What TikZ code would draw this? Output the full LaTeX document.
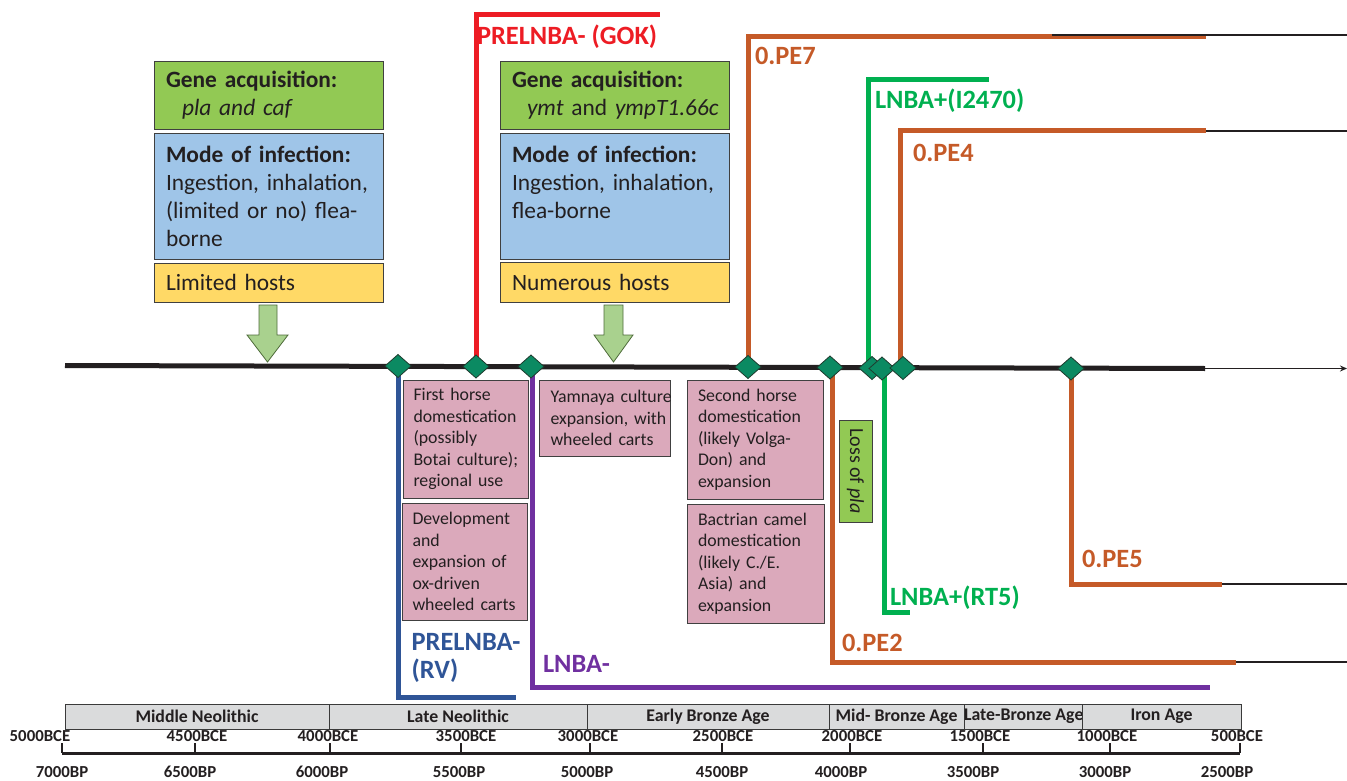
\documentclass[tikz,border=0pt]{standalone}
\usepackage{fontspec}
\setmainfont{Carlito}
\usetikzlibrary{shapes.geometric,arrows.meta,backgrounds}
\definecolor{txt}{HTML}{231F20}
\definecolor{lineBlack}{HTML}{231F20}
\definecolor{boxLine}{HTML}{404040}
\definecolor{boxLineDark}{HTML}{3A3A3A}
\definecolor{diaLine}{HTML}{1F3B2E}
\definecolor{cDia}{HTML}{0B8A62}
\definecolor{arrowGreen}{HTML}{A9D18E}
\definecolor{arrowLine}{HTML}{4E6B3A}
\definecolor{boxGreen}{HTML}{92C954}
\definecolor{boxBlue}{HTML}{9FC5E8}
\definecolor{boxYellow}{HTML}{FFD966}
\definecolor{boxPink}{HTML}{DBA9BB}
\definecolor{boxGrey}{HTML}{DADBDC}
\definecolor{cRed}{HTML}{ED1C24}
\definecolor{cOrange}{HTML}{C55A28}
\definecolor{cGreen}{HTML}{00B050}
\definecolor{cBlue}{HTML}{2F5597}
\definecolor{cPurple}{HTML}{7030A0}
\begin{document}
\begin{tikzpicture}[x=1pt,y=-1pt,
 every node/.style={inner sep=0pt,outer sep=0pt},
 box/.style={draw=boxLine,line width=0.9pt,anchor=north west,align=left,text=txt},
 bigbox/.style={box,font=\fontsize{23.4}{28}\selectfont,inner xsep=12pt,minimum width=229pt,text width=205pt},
 pinkbox/.style={box,fill=boxPink,font=\fontsize{17.8}{21.4}\selectfont},
 tbox/.style={draw=boxLineDark,line width=0.9pt,fill=boxGrey,anchor=north west,minimum height=25pt,font=\bfseries\fontsize{17.8}{20}\selectfont,text=txt},
 lab/.style={font=\bfseries\fontsize{26.4}{28.3}\selectfont,anchor=base west},
 ticklab/.style={font=\bfseries\fontsize{16.8}{18}\selectfont,anchor=base,text=txt},
 dia/.style={diamond,draw=diaLine,line width=0.8pt,fill=cDia,minimum width=26pt,minimum height=23pt},
 branch/.style={line width=5pt},
 thinline/.style={line width=1.8pt,draw=lineBlack},
 blockarrow/.style={draw=arrowLine,line width=0.8pt,fill=arrowGreen}
]
\useasboundingbox (0,0) rectangle (1347,781);

% ---- top-left info boxes
\node[bigbox,fill=boxGreen,minimum height=68pt] (lgene) at (154,61)
  {\textbf{Gene acquisition:}\\\hspace*{16pt}\textit{pla and caf}};
\node[bigbox,fill=boxBlue,minimum height=126pt] (lmode) at (154,133)
  {\textbf{Mode of infection:}\\\mbox{Ingestion, inhalation,}\\\mbox{(limited or no) flea-}\\borne};
\node[bigbox,fill=boxYellow,minimum height=39pt] (lhost) at (154,263) {Limited hosts};

% ---- middle info boxes
\node[bigbox,fill=boxGreen,minimum height=68pt] (mgene) at (500,61)
  {\textbf{Gene acquisition:}\\\hspace*{15pt}\mbox{\textit{ymt} and \textit{ympT1.66c}}};
\node[bigbox,fill=boxBlue,minimum height=126pt] (mmode) at (500,133)
  {\textbf{Mode of infection:}\\\mbox{Ingestion, inhalation,}\\flea-borne\\\mbox{}};
\node[bigbox,fill=boxYellow,minimum height=40pt] (mhost) at (500,262) {Numerous hosts};

% ---- block arrows
\draw[blockarrow] (259,305) -- (277,305) -- (277,335) -- (288,335) -- (267.5,362) -- (247,335) -- (259,335) -- cycle;
\draw[blockarrow] (604,305) -- (623,305) -- (623,335) -- (633,335) -- (613.5,362) -- (594,335) -- (604,335) -- cycle;

% ---- pink event boxes
\node[pinkbox,inner xsep=10.5pt,text width=104pt,minimum width=125pt,minimum height=118pt] (horse1) at (403,380)
  {First horse\\\mbox{domestication}\\(possibly\\\mbox{Botai culture);}\\regional use};
\node[pinkbox,inner xsep=10.5pt,text width=104pt,minimum width=125pt,minimum height=117pt] (carts) at (402,503)
  {\mbox{Development}\\and\\\mbox{expansion of}\\ox-driven\\\mbox{wheeled carts}};
\node[pinkbox,inner xsep=11.5pt,text width=108pt,minimum width=131pt,minimum height=76pt] (yamnaya) at (539,380)
  {\mbox{Yamnaya culture}\\\mbox{expansion, with}\\wheeled carts};
\node[pinkbox,inner xsep=11pt,text width=114pt,minimum width=136pt,minimum height=119pt] (horse2) at (687,380)
  {Second horse\\\mbox{domestication}\\\mbox{(likely Volga-}\\Don) and\\expansion};
\node[pinkbox,inner xsep=11pt,text width=115pt,minimum width=137pt,minimum height=119pt] (camel) at (687,504)
  {\mbox{Bactrian camel}\\\mbox{domestication}\\\mbox{(likely C./E.}\\Asia) and\\expansion};

% ---- loss of pla
\node[draw=boxLine,line width=0.9pt,fill=boxGreen,rotate=-90,minimum width=102pt,minimum height=33pt,
  font=\fontsize{20}{24}\selectfont,text=txt] (loss) at (855.5,471) {Loss of \textit{pla}};

% ---- diamonds on the main timeline
\node[dia] (d1) at (398,366) {};
\node[dia] (d2) at (476,366.5) {};
\node[dia] (d3) at (531,366.5) {};
\node[dia] (d4) at (748,367) {};
\node[dia] (d5) at (830,367.5) {};
\node[dia] (d6) at (872,368) {};
\node[dia] (d7) at (882,368.5) {};
\node[dia] (d8) at (903,368) {};
\node[dia] (d9) at (1071,368.5) {};

% ---- lineage labels
\node[lab,text=cRed] (lgok) at (477,45) {PRELNBA- (GOK)};
\node[lab,text=cOrange] (lpe7) at (755,65) {0.PE7};
\node[lab,text=cGreen] (li2470) at (875,108.3) {LNBA+(I2470)};
\node[lab,text=cOrange] (lpe4) at (913,161.7) {0.PE4};
\node[lab,text=cOrange] (lpe5) at (1082,567.3) {0.PE5};
\node[lab,text=cGreen] (lrt5) at (890,605) {LNBA+(RT5)};
\node[lab,text=cOrange] (lpe2) at (842,651.7) {0.PE2};
\node[lab,text=cBlue,anchor=north west,align=left] (lrv) at (411.7,630.2) {\strut PRELNBA-\\(RV)};
\node[lab,text=cPurple] (llnba) at (543,672.7) {LNBA-};

% ---- coordinates
\coordinate (tl0) at (65,365.5);
\coordinate (tl1) at (1205,368.5);
\coordinate (tl2) at (1347,368.5);
\coordinate (gokEnd) at (660,15);
\coordinate (pe7End) at (1206,37);
\coordinate (pe7Black) at (1052,35);
\coordinate (pe7Right) at (1347,35);
\coordinate (i2470End) at (989,80);
\coordinate (pe4End) at (1206,131);
\coordinate (pe4Right) at (1347,131);
\coordinate (pe2End) at (1236,662);
\coordinate (pe2Right) at (1347,662);
\coordinate (rt5End) at (910,612);
\coordinate (pe5End) at (1222,584);
\coordinate (pe5Right) at (1347,584);
\coordinate (rvEnd) at (516,697);
\coordinate (lnbaEnd) at (1210,687);

\begin{scope}[on background layer]
\draw[branch,cRed] (d2.center) |- (gokEnd);
\draw[branch,cOrange] (d4.center) |- (pe7End);
\draw[branch,cGreen] ([xshift=-4pt]d6.center) |- (i2470End);
\draw[branch,cOrange] ([xshift=-3pt]d8.center) |- (pe4End);
\draw[branch,cOrange] ([xshift=2pt]d5.center) |- (pe2End);
\draw[branch,cGreen] ([xshift=2pt]d7.center) |- (rt5End);
\draw[branch,cOrange] (d9.center) |- (pe5End);
\draw[branch,cBlue] (d1.center) |- (rvEnd);
\draw[branch,cPurple] ([xshift=1.5pt]d3.center) |- (lnbaEnd);
\draw[line width=5pt,lineBlack] (tl0) -- (tl1);
\draw[thinline,-{Stealth[length=7pt,width=6pt]}] (tl1) -- (tl2);
\draw[thinline] (pe7Black) -- (pe7Right);
\draw[thinline] (pe4End) -- (pe4Right);
\draw[thinline] (pe5End) -- (pe5Right);
\draw[thinline] (pe2End) -- (pe2Right);
\end{scope}

% ---- period boxes
\node[tbox,minimum width=264pt] (pmn) at (65,704) {Middle Neolithic};
\node[tbox,minimum width=258pt] (pln) at (329,704) {Late Neolithic};
\node[tbox,minimum width=242pt] (peb) at (587,704) {Early Bronze Age};
\node[tbox,minimum width=135pt] (pmb) at (829,704) {Mid- Bronze Age};
\node[tbox,minimum width=118pt] (plb) at (964,704) {Late-Bronze Age};
\node[tbox,minimum width=159pt] (pia) at (1082,704) {Iron Age};

% ---- time axis
\draw[line width=3pt,lineBlack] (62,753) -- (1240,753);
\foreach \x in {62,195,330,461,590,722,850,983,1110,1240}
  \draw[line width=2.5pt,lineBlack] (\x,743) -- (\x,753);

\node[ticklab] (bce5000) at (40,741) {5000BCE};
\node[ticklab] (bce4500) at (197,741) {4500BCE};
\node[ticklab] (bce4000) at (328,741) {4000BCE};
\node[ticklab] (bce3500) at (466,741) {3500BCE};
\node[ticklab] (bce3000) at (588,741) {3000BCE};
\node[ticklab] (bce2500) at (723,741) {2500BCE};
\node[ticklab] (bce2000) at (852,741) {2000BCE};
\node[ticklab] (bce1500) at (980,741) {1500BCE};
\node[ticklab] (bce1000) at (1107,741) {1000BCE};
\node[ticklab] (bce500) at (1237,741) {500BCE};

\node[ticklab] (bp7000) at (62,777) {7000BP};
\node[ticklab] (bp6500) at (190,777) {6500BP};
\node[ticklab] (bp6000) at (322,777) {6000BP};
\node[ticklab] (bp5500) at (459,777) {5500BP};
\node[ticklab] (bp5000) at (587,777) {5000BP};
\node[ticklab] (bp4500) at (722,777) {4500BP};
\node[ticklab] (bp4000) at (841,777) {4000BP};
\node[ticklab] (bp3500) at (973,777) {3500BP};
\node[ticklab] (bp3000) at (1105,777) {3000BP};
\node[ticklab] (bp2500) at (1227,777) {2500BP};
\end{tikzpicture}
\end{document}
